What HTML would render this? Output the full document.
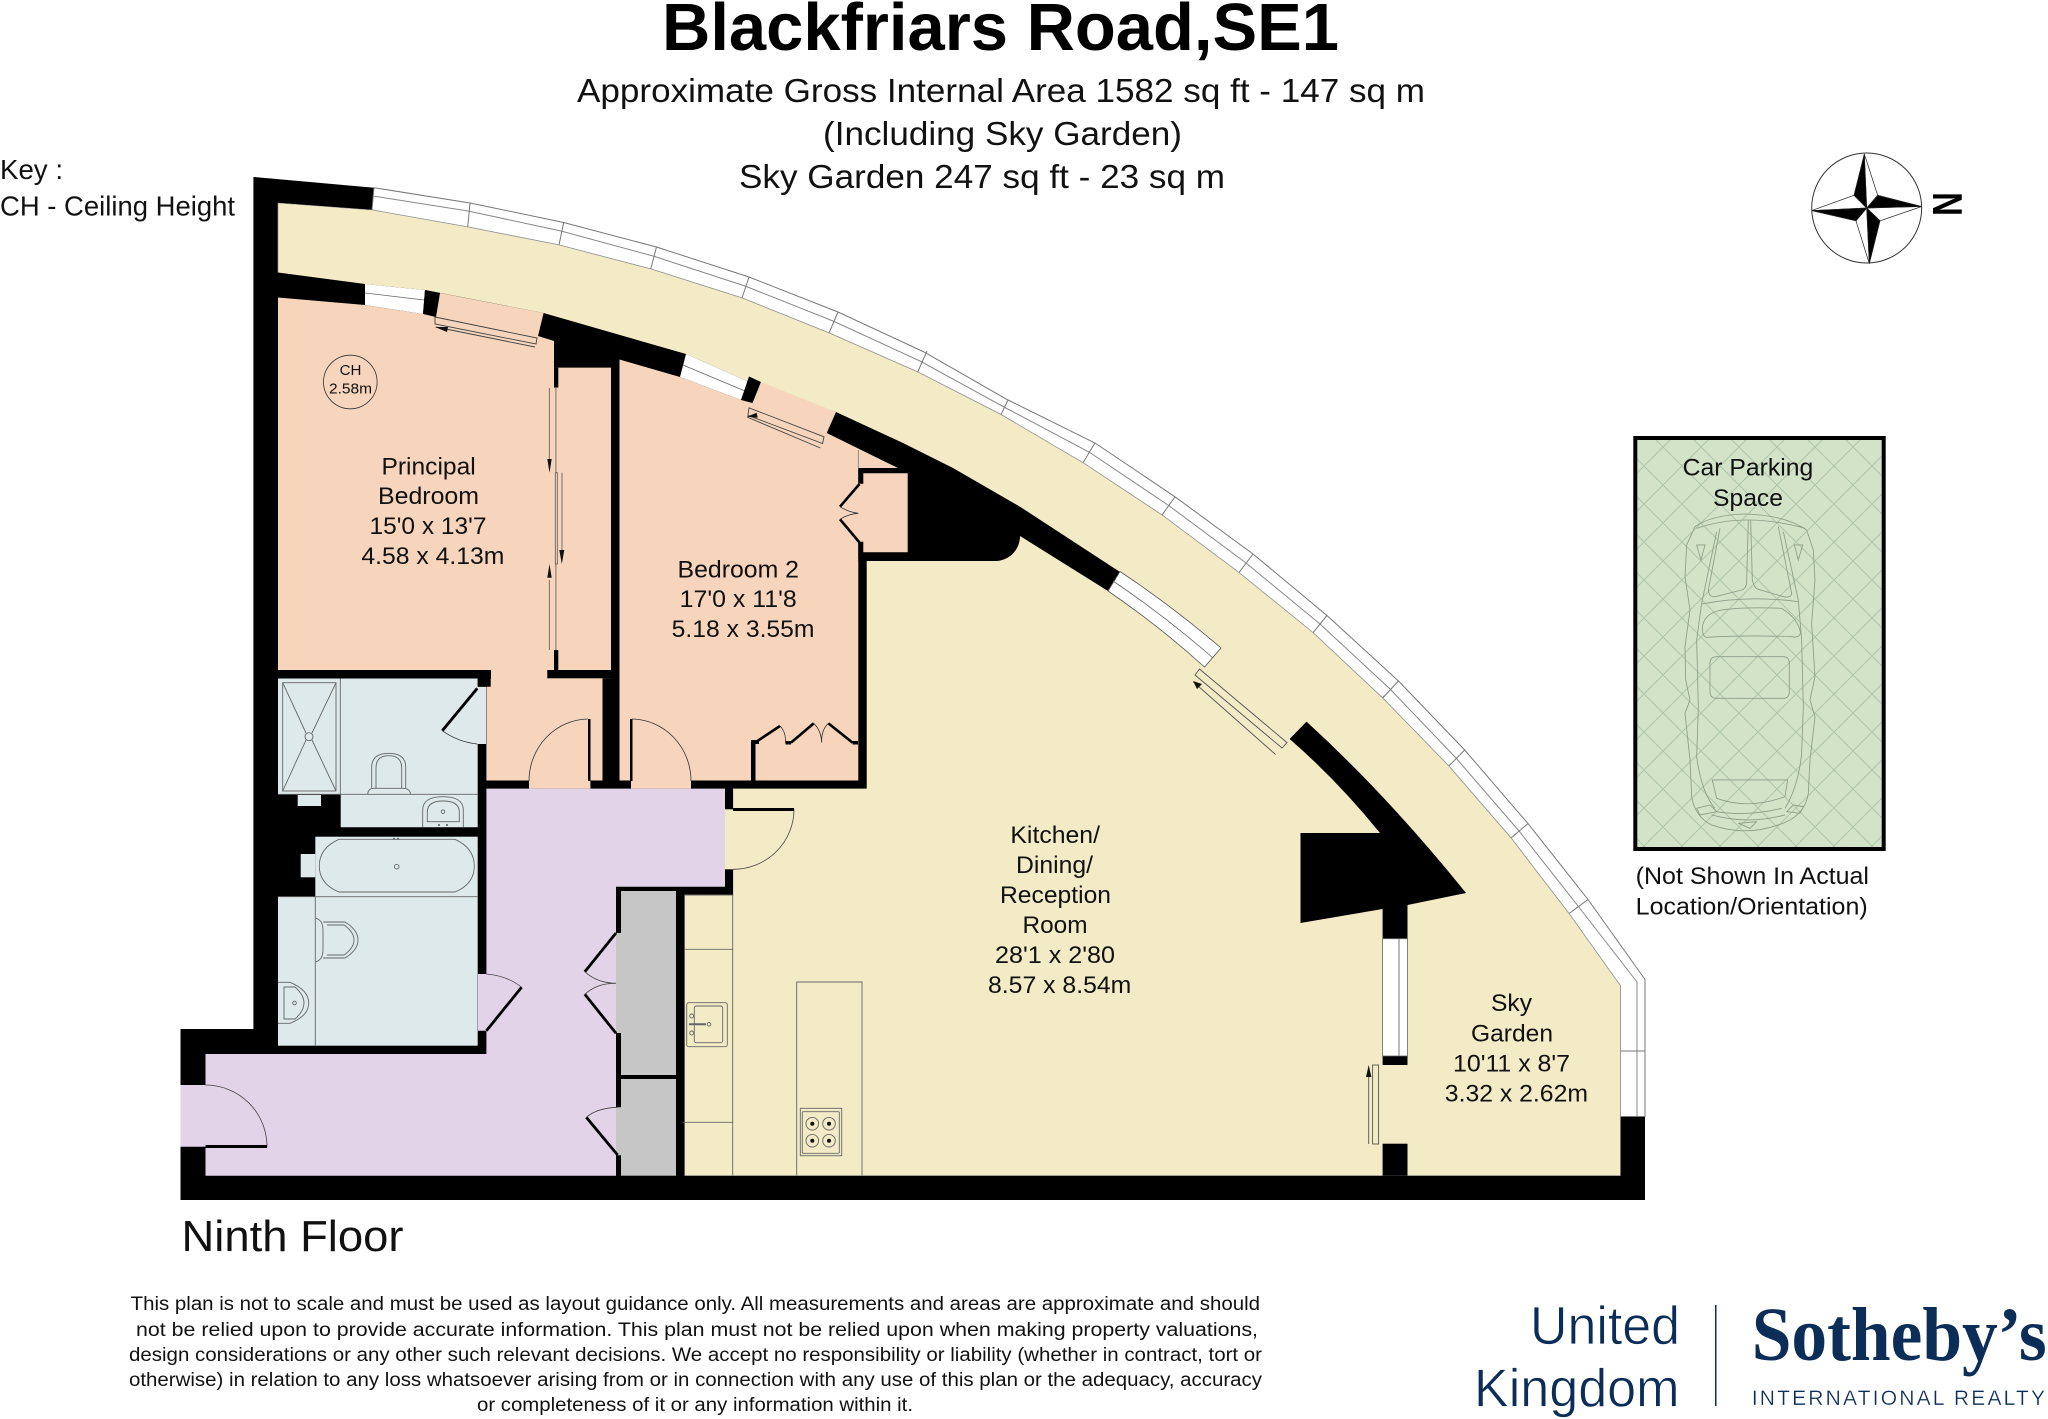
<!DOCTYPE html>
<html><head><meta charset="utf-8"><title>Blackfriars Road, SE1</title>
<style>
html,body{margin:0;padding:0;background:#fff}
svg{display:block}
text{font-family:"Liberation Sans",sans-serif;fill:#111}
.r{font-size:24.5px}
.d{font-size:19.6px}
.h{font-size:33.5px}
.t{fill:#0b2d58;stroke:#fff;stroke-width:.7px}
</style></head><body>
<svg xmlns="http://www.w3.org/2000/svg" width="2048" height="1419" viewBox="0 0 2048 1419">
<defs>
<pattern id="hatch" width="38" height="38" patternUnits="userSpaceOnUse" x="10" y="10">
<path d="M0,0L38,38M38,0L0,38" stroke="#aec5a9" stroke-width="1" fill="none"/>
</pattern>
</defs>
<rect width="2048" height="1419" fill="#fff"/>

<!-- silhouette -->
<path fill="#000" d="M253.4,177L374,187.7L470,203L563.7,222.5L656.5,247L749,277L838,312L1008,400L1095,443L1175,496.8L1253,554L1327,615.5L1398.5,681L1464.7,750L1528,823.6L1588,899.5L1645,979.5L1645,1200L180.5,1200L180.5,1029L253.4,1029Z"/>

<!-- glazing strip -->
<path fill="#fff" stroke="#777" stroke-width="1" d="M374,187.7L470,203L563.7,222.5L656.5,247L749,277L838,312L924,352L1008,400L1095,443L1175,496.8L1253,554L1327,615.5L1398.5,681L1464.7,750L1528,823.6L1588,899.5L1645,979.5L1645,1116.5L1620.4,1116.5L1620.4,985.8L1569,913.6L1511,838L1448.8,766L1382.6,698L1313,632.7L1239,572.6L1162,515L1083,462.8L1001,414.6L917.7,372L829,333L742,298L650.7,269L559,245L467.7,227L372,210Z"/>
<path fill="none" stroke="#888" stroke-width="1" d="M373,196L468,211L561,231L653,256L745,286L833,321L920,361L1004,407L1089,452L1168,505L1246,563L1320,624L1390,689L1456,758L1519,831L1578,906L1637,982L1637,1116"/>
<path fill="none" stroke="#777" stroke-width="1" d="M467.7,227L470,203M559,245L563.7,222.5M650.7,269L656.5,247M742,298L749,277M829,333L838,312M917.7,372L927,351M1001,414.6L1008,400M1083,462.8L1095,443M1162,515L1175,496.8M1239,572.6L1253,554M1313,632.7L1327,615.5M1382.6,698L1398.5,681M1448.8,766L1464.7,750M1511,838L1528,823.6M1569,913.6L1588,899.5M1620.4,1051L1645,1051"/>

<!-- yellow: garden & kitchen -->
<path fill="#f2ebc5" stroke="#999" stroke-width="0.6" d="M278,203L372,210L467.7,227L559,245L650.7,269L742,298L829,333L917.7,372L1001,414.6L1083,462.8L1162,515L1239,572.6L1313,632.7L1382.6,698L1448.8,766L1511,838L1569,913.6L1620.4,985.8L1620.4,1175.6L684.6,1175.6L684.6,895L733,895L733,789L619.5,789L278,272.5Z"/>

<!-- north & interior black -->
<path fill="#000" d="M278,272.5L365,284L425,290L543.6,313L686,354L749,382L836,412L903,443L953,468L1020,506.7L1120,572L1108,591L1020,536A25,25 0 0 1 996.7,561L866.7,561L866.7,788.6L733,788.6L733,895L684.3,895L684.3,1175.7L278,1175.7Z"/>
<rect x="180.5" y="1029" width="103" height="171" fill="#000"/>

<!-- SE wall mass -->
<path fill="#000" d="M1306.5,721.6L1289.6,739Q1337,780 1380,833L1300.5,833L1300.5,923L1382.6,909L1382.6,938.7L1407.5,938.7L1407.5,905L1466,893Q1387,795 1306.5,721.6Z"/>
<rect x="1382.6" y="1056" width="24.9" height="9" fill="#000"/>
<rect x="1382.6" y="1143.7" width="24.9" height="32" fill="#000"/>
<rect x="1382.6" y="938.7" width="24.9" height="117.3" fill="#fff" stroke="#666" stroke-width="0.8"/>
<path d="M1399,938.7V1056" stroke="#777" stroke-width="1"/>

<!-- windows -->
<path fill="#fff" stroke="#555" stroke-width="0.8" d="M1120,571.5Q1172,606 1221,648L1204.5,667Q1158,625 1108,591Z"/>
<path fill="none" stroke="#666" stroke-width="0.8" d="M1113,581Q1165,616 1213,658"/>
<path fill="#fff" d="M365,284L425,290L423,314L365,305Z"/>
<path fill="none" stroke="#666" stroke-width="0.8" d="M365,293L424,300"/>
<path fill="#000" d="M425,290L440,293L436,317L423,314Z"/>
<path fill="#fff" d="M686,354L749,382L741,400L680,377Z"/>
<path fill="none" stroke="#666" stroke-width="0.8" d="M683,365L745,391"/>
<path fill="#000" d="M749,376.5L761,382L752.5,403L741,400Z"/>

<!-- principal bedroom -->
<path fill="#f6d5bc" d="M278,297.5L365,305L423,314L436,317L440,293L543.6,313L538,336L554,341L554,367.6L611,367.6L611,678.3L602.5,678.3L602.5,780.5L590.4,780.5L590.4,788.6L529,788.6L529,780.5L486.4,780.5L486.4,679L491,679L491,670L278,670Z"/>
<rect x="547.3" y="670" width="64" height="8.3" fill="#000"/>
<rect x="554" y="367.6" width="4.3" height="20" fill="#000"/>
<rect x="554" y="650" width="4.3" height="20" fill="#000"/>
<!-- wardrobe sliding -->
<rect x="555" y="388" width="1.7" height="84" fill="#a89a90"/>
<rect x="555" y="564" width="1.7" height="86" fill="#a89a90"/>
<g fill="none" stroke="#555" stroke-width="0.8">
<path d="M549.3,388V460M549.3,580V650M555.3,472.700H557.300V564H555.300ZM562,472.700V552"/>
</g>
<path fill="#111" d="M547.300,459h4.400l-2.200,13.700zM559.300,550h5l-2.500,14zM547.300,577.700h4.400l-2.200,-13.700z"/>
<!-- principal top slider -->
<path fill="none" stroke="#444" stroke-width="0.9" d="M435,317L537,338L536,344L435,324ZM436,327L535,347"/>
<path fill="#111" d="M435,327l13,0l-1,5z"/>

<!-- bedroom 2 -->
<path fill="#f6d5bc" d="M619.5,359.5L680,377L741,400L752.5,403L761,382L836,412L826.700,433L898,468L858.300,468L858.300,780.500L691,780.500L691,788.600L631,788.600L631,780.500L619.500,780.500Z"/>
<rect x="858.300" y="469" width="49.400" height="4.300" fill="#000"/>
<rect x="858.300" y="473" width="49.400" height="88" fill="#000"/>
<path fill="#f6d5bc" d="M863.300,473.300H907.700V552.300H863.300V541.700H857V483.700H863.300Z"/>
<path d="M858.300,450V468" stroke="#777" stroke-width="0.8"/>
<path fill="none" stroke="#444" stroke-width="0.9" d="M749,407.800L824,436.800L822.600,443.500L748,415.400ZM747,417L820.400,448"/>
<path fill="#111" d="M746.700,416.700l10,-4l1,5z"/>
<!-- bed2 cupboard doors -->
<g fill="none" stroke="#000" stroke-width="2.600">
<path d="M859.500,484L840,506.700M859.500,542.500L840,519.300"/>
<path d="M755,742.600L780,726M791,742.600L813.700,723.400M828.400,723.400L852.500,742.600"/>
</g>
<g fill="none" stroke="#333" stroke-width="0.8">
<path d="M840,506.700Q848,512 858.300,513.300Q848,514 840,519.300"/>
<path d="M780,726Q786,732 785.500,742.600M813.700,723.400Q821,730 821.700,742.600Q821,730 828.400,723.400"/>
</g>
<rect x="751" y="742.600" width="4.500" height="38" fill="#000"/>
<rect x="751" y="740" width="8" height="4" fill="#000"/>
<rect x="785.500" y="741" width="5.500" height="3.500" fill="#000"/>
<rect x="852.500" y="741" width="5.500" height="3.500" fill="#000"/>

<!-- bedroom doors -->
<rect x="588" y="719" width="2.500" height="62" fill="#000"/>
<rect x="630" y="719" width="2.500" height="62" fill="#000"/>
<path fill="none" stroke="#333" stroke-width="0.8" d="M588,719A60,62 0 0 0 529,781M632,719A60,62 0 0 1 691,781"/>

<!-- ensuite -->
<path fill="#dde9ea" d="M278,678.500H477.700V686.700H486V744H477.700V827.300H340.700V794.300H278Z"/>
<rect x="297.700" y="795" width="23.300" height="11" fill="#dde9ea"/>
<g fill="none" stroke="#666" stroke-width="0.9">
<rect x="282.700" y="682.700" width="53.300" height="108.300"/>
<path d="M340.300,678.500V794.300M278,794.300H477.700M282.700,682.700L306,733M336,682.700L312,733M312,740L336,791M306,740L282.700,791"/>
<circle cx="309" cy="736.700" r="4"/>
<path d="M367.700,794.300Q368,788.300 374,788.300H403Q410,788.300 410.500,794.300M371.700,788V767Q372,753.300 388.500,753.300Q405.700,753.300 405.700,767V788M376,788V768Q376,755.700 388.500,755.700Q401.700,755.700 401.700,768V788"/>
<path d="M422.700,827.300V810Q422.700,796.700 443,796.700Q463.300,796.700 463.300,810V827.300M427.300,821.700V812Q427.300,801 443,801Q459.300,801 459.300,812V821.700Z"/>
<circle cx="443" cy="811.700" r="1.800"/>
</g>
<circle cx="439" cy="825" r="1" fill="#555"/><circle cx="447" cy="825" r="1" fill="#555"/>
<path d="M477.300,688.300L442.300,730.700" stroke="#000" stroke-width="2.800"/>
<path d="M442.300,730.700Q458,742 477.300,744" fill="none" stroke="#333" stroke-width="0.8"/>
<rect x="477.700" y="678" width="13" height="8.700" fill="#000"/>
<rect x="486" y="670" width="5" height="9" fill="#000"/>

<!-- bathroom -->
<rect x="315.300" y="836.700" width="162.400" height="60" fill="#dde9ea"/>
<rect x="278" y="896.700" width="199.700" height="149" fill="#dde9ea"/>
<rect x="300.700" y="854" width="14.600" height="23.300" fill="#dde9ea"/>
<g fill="none" stroke="#666" stroke-width="0.9">
<path d="M278,896.700H477.700M315.300,896.700V1045.700"/>
<path d="M339,839.300H455Q474.300,848 474.300,866Q474.300,884 455,892H339Q319.300,884 319.300,866Q319.300,848 339,839.300Z"/>
<circle cx="396.700" cy="866.700" r="2.300"/>
<path d="M315.300,918Q323,920 323,930V950Q323,960 315.300,962M323,922H345Q358,930 358,940Q358,950 345,958H323M327,925H344Q354,932 354,940Q354,948 344,955H327"/>
<path d="M278,982.300H290Q308.700,990 308.700,1003Q308.700,1016 290,1023.300H278M284,987H295Q304,995 304,1003Q304,1011 295,1019H284Z"/>
<circle cx="294.500" cy="1003" r="1.800"/>
</g>
<circle cx="394" cy="838.700" r="1" fill="#555"/><circle cx="398" cy="838.700" r="1" fill="#555"/>

<!-- hall -->
<path fill="#e3d3e8" d="M486.400,788.600H725V886.700H616V1175.700H205.500V1146.700H180.500V1085H205.500V1054H486.400V1030.700H478V974H486.400Z"/>
<rect x="621" y="891" width="55" height="184" fill="#c6c6c6"/>
<rect x="621" y="1079" width="55" height="96.700" fill="#c6c6c6"/>
<rect x="616" y="933" width="5" height="100" fill="#c6c6c6"/>
<rect x="616" y="1107.300" width="5" height="48" fill="#c6c6c6"/>
<rect x="725" y="809.300" width="10" height="60" fill="#f2ebc5"/>
<!-- hall doors -->
<g stroke="#000" stroke-width="2.800" fill="none">
<path d="M486.400,1030.700L521.600,987.300"/>
<path d="M616,933L584.800,971.700M616,1033.300L584.800,994.300M617.600,1155L586.300,1117.300"/>
</g>
<g fill="none" stroke="#444" stroke-width="0.8">
<path d="M486.400,974Q508,976 521.600,987.300"/>
<path d="M584.800,971.700Q597,983 616,983.300Q597,983 584.800,994.300"/>
<path d="M586.300,1117.300Q597,1108 617.600,1107.300"/>
<path d="M205.500,1085A61.500,61.700 0 0 1 267,1146.700"/>
<path d="M794,809.300A61,60 0 0 1 733,869.300"/>
</g>
<rect x="205.500" y="1145" width="61.500" height="3" fill="#000"/>
<rect x="733" y="808" width="61" height="3" fill="#000"/>

<!-- kitchen fittings -->
<g fill="none" stroke="#666" stroke-width="0.9">
<path d="M732.700,895V1175.600M684.300,895H732.700M684.300,949.300H732.700M682.700,1122.300H732.700"/>
<path d="M796.700,1175.600V982H862V1175.600"/>
<rect x="686.700" y="1002.700" width="40.600" height="44" rx="2"/>
<rect x="694.300" y="1006" width="28.400" height="36.700" rx="2"/>
<rect x="800.300" y="1108.300" width="41.400" height="47.400"/>
<rect x="802.300" y="1111.700" width="37" height="41.600" rx="1"/>
<circle cx="812.300" cy="1123.700" r="6.300"/><circle cx="829" cy="1123.700" r="6.300"/>
<circle cx="812.300" cy="1140.700" r="6.300"/><circle cx="829" cy="1140.700" r="6.300"/>
<circle cx="691.700" cy="1016" r="2"/><circle cx="691.700" cy="1033" r="2"/><circle cx="709" cy="1024.300" r="1.800"/>
<path d="M689,1024.300H706" stroke-width="2"/>
</g>
<g fill="#111"><circle cx="812.300" cy="1123.700" r="2"/><circle cx="829" cy="1123.700" r="2"/><circle cx="812.300" cy="1140.700" r="2"/><circle cx="829" cy="1140.700" r="2"/></g>

<!-- kitchen sliders -->
<g fill="none" stroke="#555" stroke-width="0.9">
<path d="M1199.500,669L1287,742.600L1282,748L1195,675Z"/>
<path d="M1193.500,682L1275.600,754.600"/>
<rect x="1372.600" y="1065" width="6" height="79"/>
<path d="M1368.700,1070V1144"/>
</g>
<path fill="#111" d="M1193,681l4,8l5,-5zM1368.700,1065l-2.700,12h5.400z"/>

<!-- CH -->
<circle cx="350.300" cy="382" r="26.800" fill="none" stroke="#333" stroke-width="0.8"/>
<text x="339.600" y="375" font-size="15" textLength="21.800" lengthAdjust="spacingAndGlyphs">CH</text>
<text x="329" y="393.500" font-size="15" textLength="43" lengthAdjust="spacingAndGlyphs">2.58m</text>

<!-- car parking -->
<rect x="1635.300" y="438" width="248.400" height="411" fill="#d2e3c8"/>
<rect x="1635.300" y="438" width="248.400" height="411" fill="url(#hatch)"/>
<rect x="1635.300" y="438" width="248.400" height="411" fill="none" stroke="#000" stroke-width="4"/>
<g transform="translate(1635,500) scale(.3333)" fill="none" stroke="#8d9d88" stroke-width="2.600">
<path d="M330,42Q230,45 180,80L155,135L150,230L165,330L150,440L152,540L165,600L150,640L165,780L170,890Q180,950 230,975Q330,1010 430,975Q510,950 520,880L525,780L540,650L525,600L540,530L530,370L540,240L535,150L515,90Q450,45 330,42Z"/>
<path d="M185,85Q330,35 510,85"/>
<path d="M255,85L220,270Q222,292 240,290L320,270Q335,265 335,245L340,60M347,60L352,240Q358,265 370,268L445,290Q468,295 470,280L430,80"/>
<path d="M245,95L200,310L185,420L190,620L185,770Q200,880 240,925M445,95L490,300L500,420L505,620L500,760Q490,860 450,925"/>
<path d="M185,135H210L198,180ZM478,135H503L490,180Z"/>
<path d="M200,312Q340,285 490,305"/>
<path d="M202,385Q205,340 260,330Q330,320 440,325Q490,355 497,400Q490,415 470,410Q330,405 215,412Q202,410 202,385Z"/>
<path d="M225,490Q225,470 245,470H445Q463,470 463,490V575Q463,595 445,595H245Q225,595 225,575Z"/>
<path d="M232,840H458L450,890Q340,930 245,895Z"/>
<path d="M185,925L225,915L245,935L195,945ZM455,935L475,915L505,920L495,940ZM245,935Q340,950 440,925M230,945Q340,975 450,945M310,970L365,965L345,985Z"/>
</g>

<!-- compass -->
<circle cx="1866.700" cy="208" r="55" fill="#fff" stroke="#333" stroke-width="1"/>
<g stroke="#222" stroke-width="0.7">
<path fill="#fff" d="M1864.300,154L1877.700,195.300L1866.700,208ZM1921.700,206.500L1880,220.800L1866.700,208ZM1869.300,263.700L1856,220.800L1866.700,208ZM1811.700,210.600L1854,195.300L1866.700,208Z"/>
<path fill="#000" d="M1864.300,154L1854,195.300L1866.700,208ZM1921.700,206.500L1877.700,195.300L1866.700,208ZM1869.300,263.700L1880,220.800L1866.700,208ZM1811.700,210.600L1856,220.800L1866.700,208Z"/>
</g>
<text transform="translate(1933,204) rotate(90) scale(1,1.260)" text-anchor="middle" font-size="33" font-weight="700" style="fill:#000">N</text>

<!-- title text -->
<text x="662" y="50" font-size="67" font-weight="700" textLength="677" lengthAdjust="spacingAndGlyphs" style="fill:#000">Blackfriars Road,SE1</text>
<text class="h" x="577" y="102" textLength="848" lengthAdjust="spacingAndGlyphs">Approximate Gross Internal Area 1582 sq ft - 147 sq m</text>
<text class="h" x="823" y="145" textLength="359" lengthAdjust="spacingAndGlyphs">(Including Sky Garden)</text>
<text class="h" x="739" y="188" textLength="486" lengthAdjust="spacingAndGlyphs">Sky Garden 247 sq ft - 23 sq m</text>
<text x="0" y="179" font-size="28" textLength="63" lengthAdjust="spacingAndGlyphs">Key :</text>
<text x="0" y="215.500" font-size="28" textLength="235" lengthAdjust="spacingAndGlyphs">CH - Ceiling Height</text>

<!-- room labels -->
<text class="r" x="381.500" y="474.700" textLength="94.200" lengthAdjust="spacingAndGlyphs">Principal</text>
<text class="r" x="378" y="504" textLength="101" lengthAdjust="spacingAndGlyphs">Bedroom</text>
<text class="r" x="369.500" y="534" textLength="117" lengthAdjust="spacingAndGlyphs">15'0 x 13'7</text>
<text class="r" x="361.400" y="564" textLength="143" lengthAdjust="spacingAndGlyphs">4.58 x 4.13m</text>
<text class="r" x="677.500" y="577.400" textLength="121.500" lengthAdjust="spacingAndGlyphs">Bedroom 2</text>
<text class="r" x="679.700" y="607" textLength="117" lengthAdjust="spacingAndGlyphs">17'0 x 11'8</text>
<text class="r" x="671.700" y="636.800" textLength="142.800" lengthAdjust="spacingAndGlyphs">5.18 x 3.55m</text>
<text class="r" x="1010.400" y="843" textLength="89.600" lengthAdjust="spacingAndGlyphs">Kitchen/</text>
<text class="r" x="1016" y="873" textLength="77" lengthAdjust="spacingAndGlyphs">Dining/</text>
<text class="r" x="1000" y="903" textLength="111" lengthAdjust="spacingAndGlyphs">Reception</text>
<text class="r" x="1022.500" y="933" textLength="65" lengthAdjust="spacingAndGlyphs">Room</text>
<text class="r" x="995" y="963" textLength="120" lengthAdjust="spacingAndGlyphs">28'1 x 2'80</text>
<text class="r" x="988" y="993" textLength="143.300" lengthAdjust="spacingAndGlyphs">8.57 x 8.54m</text>
<text class="r" x="1491" y="1011" textLength="41" lengthAdjust="spacingAndGlyphs">Sky</text>
<text class="r" x="1471" y="1041.500" textLength="82" lengthAdjust="spacingAndGlyphs">Garden</text>
<text class="r" x="1453" y="1071.500" textLength="117" lengthAdjust="spacingAndGlyphs">10'11 x 8'7</text>
<text class="r" x="1444.800" y="1101.500" textLength="143.200" lengthAdjust="spacingAndGlyphs">3.32 x 2.62m</text>
<text class="r" x="1682.700" y="475.500" textLength="130.600" lengthAdjust="spacingAndGlyphs">Car Parking</text>
<text class="r" x="1713" y="506" textLength="70" lengthAdjust="spacingAndGlyphs">Space</text>
<text class="r" x="1635.700" y="884" textLength="233.300" lengthAdjust="spacingAndGlyphs">(Not Shown In Actual</text>
<text class="r" x="1635.700" y="914.700" textLength="232" lengthAdjust="spacingAndGlyphs">Location/Orientation)</text>

<text x="181.500" y="1251" font-size="44" textLength="222" lengthAdjust="spacingAndGlyphs">Ninth Floor</text>

<!-- disclaimer -->
<text class="d" x="130.600" y="1310" textLength="1129.400" lengthAdjust="spacingAndGlyphs">This plan is not to scale and must be used as layout guidance only. All measurements and areas are approximate and should</text>
<text class="d" x="136" y="1336" textLength="1122" lengthAdjust="spacingAndGlyphs">not be relied upon to provide accurate information. This plan must not be relied upon when making property valuations,</text>
<text class="d" x="129" y="1361" textLength="1133" lengthAdjust="spacingAndGlyphs">design considerations or any other such relevant decisions. We accept no responsibility or liability (whether in contract, tort or</text>
<text class="d" x="129" y="1386" textLength="1133" lengthAdjust="spacingAndGlyphs">otherwise) in relation to any loss whatsoever arising from or in connection with any use of this plan or the adequacy, accuracy</text>
<text class="d" x="477" y="1411" textLength="436" lengthAdjust="spacingAndGlyphs">or completeness of it or any information within it.</text>

<!-- logo -->
<text class="t" x="1530" y="1344" font-size="54" textLength="150" lengthAdjust="spacingAndGlyphs">United</text>
<text class="t" x="1474" y="1406.700" font-size="54" textLength="205.500" lengthAdjust="spacingAndGlyphs">Kingdom</text>
<rect x="1715" y="1305" width="1.500" height="101" fill="#0b2d58"/>
<text x="1751.700" y="1360" font-size="76" font-weight="700" textLength="295" lengthAdjust="spacingAndGlyphs" style="font-family:'Liberation Serif',serif;fill:#0b2d58">Sotheby’s</text>
<text class="t" style="stroke-width:.3px" x="1751.700" y="1405" font-size="21" textLength="293.300" lengthAdjust="spacing">INTERNATIONAL REALTY</text>
</svg>
</body></html>
